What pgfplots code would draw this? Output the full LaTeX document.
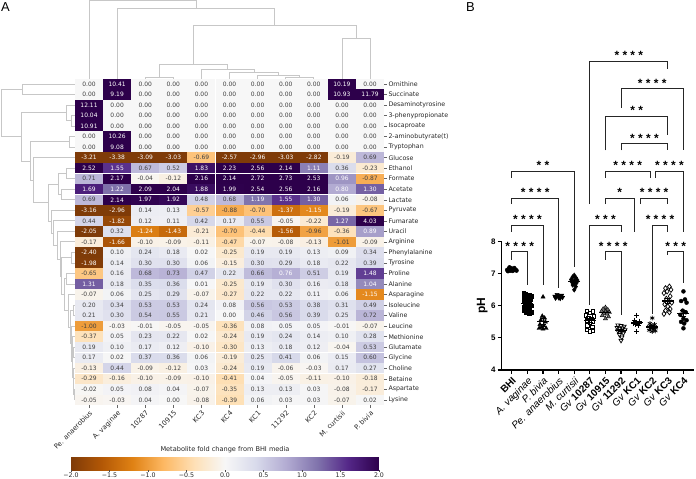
\documentclass[border=0pt]{standalone}
\usepackage{pgfplots}
\pgfplotsset{compat=1.18}
\usepackage{pgfplotstable}
\usepackage{fontspec}
\setmainfont{DejaVu Sans}
\newfontfamily\arial{Liberation Sans}
\newcommand\hmfont{\fontsize{6.3}{7.4}\selectfont}
\newcommand\colfont{\fontsize{6.8}{7.4}\selectfont}
\newcommand\cellfont{\fontsize{6}{6}\selectfont}
\pgfdeclareplotmark{cell}{\pgfpathrectangle{\pgfpoint{-14.0bp}{-5.2bp}}{\pgfpoint{28.0bp}{10.4bp}}\pgfusepathqfill}
\pgfplotsset{colormap={puor}{rgb255=(127,59,8) rgb255=(179,88,6) rgb255=(224,130,20) rgb255=(253,184,99) rgb255=(254,224,182) rgb255=(247,247,247) rgb255=(216,218,235) rgb255=(178,171,210) rgb255=(128,115,172) rgb255=(84,39,136) rgb255=(45,0,75)}}
\pgfplotsset{dendro/.style={draw=black!22, line width=0.9bp, mark=none},
  brk/.style={draw=black!85, line width=1.0bp, mark=none}}

\pgfplotstableread{
r c0 c1 c2 c3 c4 c5 c6 c7 c8 c9 c10
0 0.00 10.41 0.00 0.00 0.00 0.00 0.00 0.00 0.00 10.19 0.00
1 0.00 9.19 0.00 0.00 0.00 0.00 0.00 0.00 0.00 10.93 11.79
2 12.11 0.00 0.00 0.00 0.00 0.00 0.00 0.00 0.00 0.00 0.00
3 10.04 0.00 0.00 0.00 0.00 0.00 0.00 0.00 0.00 0.00 0.00
4 10.91 0.00 0.00 0.00 0.00 0.00 0.00 0.00 0.00 0.00 0.00
5 0.00 10.26 0.00 0.00 0.00 0.00 0.00 0.00 0.00 0.00 0.00
6 0.00 9.08 0.00 0.00 0.00 0.00 0.00 0.00 0.00 0.00 0.00
7 -3.21 -3.38 -3.09 -3.03 -0.69 -2.57 -2.96 -3.03 -2.82 -0.19 0.69
8 2.52 1.55 0.67 0.52 1.83 2.23 2.56 2.14 1.11 0.36 -0.23
9 0.71 2.17 -0.04 -0.12 2.16 2.14 2.72 2.73 2.53 0.96 -0.87
10 1.69 1.22 2.09 2.04 1.88 1.99 2.54 2.56 2.16 0.80 1.30
11 0.69 2.14 1.97 1.92 0.48 0.68 1.19 1.55 1.30 0.06 -0.08
12 -3.16 -2.96 0.14 0.13 -0.57 -0.88 -0.70 -1.37 -1.15 -0.19 -0.67
13 0.44 -1.82 0.12 0.11 0.42 0.17 0.55 -0.05 -0.22 1.27 4.03
14 -2.05 0.32 -1.24 -1.43 -0.21 -0.70 -0.44 -1.56 -0.96 -0.36 0.89
15 -0.17 -1.66 -0.10 -0.09 -0.11 -0.47 -0.07 -0.08 -0.13 -1.01 -0.09
16 -2.40 0.10 0.24 0.18 0.02 -0.25 0.19 0.19 0.13 0.09 0.34
17 -1.98 0.14 0.30 0.30 0.06 -0.15 0.30 0.29 0.18 0.22 0.39
18 -0.65 0.16 0.68 0.73 0.47 0.22 0.66 0.76 0.51 0.19 1.48
19 1.31 0.18 0.35 0.36 0.01 -0.25 0.19 0.30 0.16 0.18 1.04
20 -0.07 0.06 0.25 0.29 -0.07 -0.27 0.22 0.22 0.11 0.06 -1.15
21 0.20 0.34 0.53 0.53 0.24 0.08 0.56 0.53 0.38 0.31 0.49
22 0.21 0.30 0.54 0.55 0.21 -0.00 0.46 0.56 0.39 0.25 0.72
23 -1.00 -0.03 -0.01 -0.05 -0.05 -0.36 0.08 0.05 0.05 -0.01 -0.07
24 -0.37 0.05 0.23 0.22 0.02 -0.24 0.19 0.24 0.14 0.10 0.28
25 0.19 0.10 0.17 0.12 -0.10 -0.30 0.13 0.18 0.12 -0.04 0.53
26 0.17 0.02 0.37 0.36 0.06 -0.19 0.25 0.41 0.06 0.15 0.60
27 -0.13 0.44 -0.09 -0.12 0.03 -0.24 0.19 -0.06 -0.03 0.17 0.27
28 -0.29 -0.16 -0.10 -0.09 -0.10 -0.41 0.04 -0.05 -0.11 -0.10 -0.18
29 -0.02 0.05 0.08 0.04 -0.07 -0.35 0.13 0.13 0.03 -0.08 -0.17
30 -0.05 -0.03 0.04 0.00 -0.08 -0.39 0.06 0.03 0.03 -0.07 0.02
}\hm

\begin{document}
\begin{tikzpicture}
% ---------- top dendrogram (x: column, y: pixel from top)
\begin{axis}[at={(75bp,479bp)}, anchor=north west, x=28.1bp, y=1bp, y dir=reverse,
  xmin=-0.5, xmax=10.5, ymin=0, ymax=78.7, hide axis, clip=false]
\addplot[dendro] coordinates {(2,78.7)(2,77.5)(3,77.5)(3,78.7)};
\addplot[dendro] coordinates {(7,78.7)(7,77)(8,77)(8,78.7)};
\addplot[dendro] coordinates {(6,78.7)(6,75)(7.5,75)(7.5,77)};
\addplot[dendro] coordinates {(5,78.7)(5,72)(6.75,72)(6.75,75)};
\addplot[dendro] coordinates {(4,78.7)(4,69)(5.875,69)(5.875,72)};
\addplot[dendro] coordinates {(2.5,77.5)(2.5,64.3)(4.9375,64.3)(4.9375,69)};
\addplot[dendro] coordinates {(9,78.7)(9,38.7)(10,38.7)(10,78.7)};
\addplot[dendro] coordinates {(3.71875,64.3)(3.71875,25.7)(9.5,25.7)(9.5,38.7)};
\addplot[dendro] coordinates {(1,78.7)(1,8.3)(6.609,8.3)(6.609,25.7)};
\addplot[dendro] coordinates {(0,78.7)(0,0.8)(3.805,0.8)(3.805,8.3)};
\end{axis}
% ---------- left dendrogram (x: pixel, y: row)
\begin{axis}[at={(0bp,400.3bp)}, anchor=north west, x=1bp, y=10.53bp, y dir=reverse,
  xmin=0, xmax=75, ymin=-0.5, ymax=30.5, hide axis, clip=false]
\addplot[dendro] coordinates {(75,0)(22.7,0)(22.7,1)(75,1)};
\addplot[dendro] coordinates {(75,3)(71.7,3)(71.7,4)(75,4)};
\addplot[dendro] coordinates {(75,2)(66.7,2)(66.7,3.5)(71.7,3.5)};
\addplot[dendro] coordinates {(75,5)(69.3,5)(69.3,6)(75,6)};
\addplot[dendro] coordinates {(75,8)(66.7,8)(66.7,9)(75,9)};
\addplot[dendro] coordinates {(75,10)(61.7,10)(61.7,11)(75,11)};
\addplot[dendro] coordinates {(66.7,8.5)(58.3,8.5)(58.3,10.5)(61.7,10.5)};
\addplot[dendro] coordinates {(75,29)(74,29)(74,30)(75,30)};
\addplot[dendro] coordinates {(75,28)(73.5,28)(73.5,29.5)(74,29.5)};
\addplot[dendro] coordinates {(75,27)(73,27)(73,28.75)(73.5,28.75)};
\addplot[dendro] coordinates {(75,25)(73.5,25)(73.5,26)(75,26)};
\addplot[dendro] coordinates {(75,24)(72.5,24)(72.5,25.5)(73.5,25.5)};
\addplot[dendro] coordinates {(72.5,24.75)(72,24.75)(72,27.875)(73,27.875)};
\addplot[dendro] coordinates {(75,23)(71,23)(71,26.31)(72,26.31)};
\addplot[dendro] coordinates {(75,21)(73,21)(73,22)(75,22)};
\addplot[dendro] coordinates {(73,21.5)(70,21.5)(70,24.66)(71,24.66)};
\addplot[dendro] coordinates {(75,20)(68.5,20)(68.5,23.08)(70,23.08)};
\addplot[dendro] coordinates {(75,18)(66.7,18)(66.7,19)(75,19)};
\addplot[dendro] coordinates {(66.7,18.5)(64,18.5)(64,21.54)(68.5,21.54)};
\addplot[dendro] coordinates {(75,16)(71.7,16)(71.7,17)(75,17)};
\addplot[dendro] coordinates {(71.7,16.5)(61.7,16.5)(61.7,20.02)(64,20.02)};
\addplot[dendro] coordinates {(75,15)(60,15)(60,18.26)(61.7,18.26)};
\addplot[dendro] coordinates {(75,14)(57.3,14)(57.3,16.63)(60,16.63)};
\addplot[dendro] coordinates {(75,13)(53.3,13)(53.3,15.31)(57.3,15.31)};
\addplot[dendro] coordinates {(75,12)(51.7,12)(51.7,14.16)(53.3,14.16)};
\addplot[dendro] coordinates {(58.3,9.5)(48.3,9.5)(48.3,13.08)(51.7,13.08)};
\addplot[dendro] coordinates {(75,7)(33.3,7)(33.3,11.29)(48.3,11.29)};
\addplot[dendro] coordinates {(69.3,5.5)(30,5.5)(30,9.14)(33.3,9.14)};
\addplot[dendro] coordinates {(66.7,2.75)(21.7,2.75)(21.7,7.32)(30,7.32)};
\addplot[dendro] coordinates {(22.7,0.5)(1,0.5)(1,5.03)(21.7,5.03)};
\end{axis}
% ---------- heatmap (row r plotted at y=-r)
\begin{axis}[at={(75bp,400.3bp)}, anchor=north west,
  scale only axis, width=309.1bp, height=326.43bp,
  xmin=-0.5, xmax=10.5, ymin=-30.5, ymax=0.5,
  axis line style={draw=none}, clip=false,
  colormap name=puor, point meta min=-2, point meta max=2,
  xtick={0,...,10}, xticklabels={},
  ytick={-30,...,0},
  yticklabels={Lysine, Aspartate, Betaine, Choline, Glycine, Glutamate, Methionine, Leucine, Valine, Isoleucine, Asparagine, Alanine, Proline, Tyrosine, Phenylalanine, Arginine, Uracil, Fumarate, Pyruvate, Lactate, Acetate, Formate, Ethanol, Glucose, Tryptophan, {2-aminobutyrate(t)}, Isocaproate, 3-phenypropionate, Desaminotyrosine, Succinate, Ornithine},
  xtick pos=left, ytick pos=right, yticklabel pos=right,
  tick align=outside, major tick length=3bp, tick style={black!60, line width=0.5bp},
  yticklabel style={anchor=west, font=\hmfont, inner sep=1.2bp, text=black!85},
  colorbar horizontal,
  colorbar style={at={(parent axis.south west)}, anchor=north west, xshift=-4bp, yshift=-43.5bp,
    scale only axis, width=308bp, height=13bp,
    xtick={-2,-1.5,-1,-0.5,0,0.5,1,1.5,2},
    xticklabels={−2.0,−1.5,−1.0,−0.5,0.0,0.5,1.0,1.5,2.0},
    xticklabel style={font=\hmfont, rotate=0, anchor=north, inner sep=0.8bp, text=black!85},
    xtick pos=left, tick align=outside, major tick length=2.2bp, tick style={black!70, line width=0.5bp},
    axis line style={draw=none},
    title={Metabolite fold change from BHI media},
    title style={font=\fontsize{6.6}{7}\selectfont, yshift=-5bp, text=black!85}},
]
\pgfplotsinvokeforeach{0,...,10}{
  \addplot[scatter, only marks, mark=cell, point meta=\thisrow{c#1}] table[x expr=#1, y expr=-\thisrow{r}]{\hm};
}
\pgfplotsinvokeforeach{0,...,10}{
  \addplot[draw=none, mark=none, point meta=\thisrow{c#1},
    nodes near coords={\ifdim\pgfplotspointmetatransformed pt>687pt\color{white}\else\ifdim\pgfplotspointmetatransformed pt<225pt\color{white}\else\color{black!75}\fi\fi\pgfmathprintnumber[fixed,zerofill,precision=2,assume math mode=true]{\pgfplotspointmeta}},
    every node near coord/.append style={anchor=center, font=\cellfont, inner sep=0pt}]
    table[x expr=#1, y expr=-\thisrow{r}]{\hm};
}
\begin{scope}[every node/.style={rotate=45, anchor=north east, font=\colfont, text=black!85, inner sep=1bp}]
\node at ([yshift=-3.5bp]axis cs:0,-30.5) {Pe. anaerobius};
\node at ([yshift=-3.5bp]axis cs:1,-30.5) {A. vaginae};
\node at ([yshift=-3.5bp]axis cs:2,-30.5) {10287};
\node at ([yshift=-3.5bp]axis cs:3,-30.5) {10915};
\node at ([yshift=-3.5bp]axis cs:4,-30.5) {KC3};
\node at ([yshift=-3.5bp]axis cs:5,-30.5) {KC4};
\node at ([yshift=-3.5bp]axis cs:6,-30.5) {KC1};
\node at ([yshift=-3.5bp]axis cs:7,-30.5) {11292};
\node at ([yshift=-3.5bp]axis cs:8,-30.5) {KC2};
\node at ([yshift=-3.5bp]axis cs:9,-30.5) {M. curtisii};
\node at ([yshift=-3.5bp]axis cs:10,-30.5) {P. bivia};
\end{scope}
\end{axis}
% ---------- panel B
\begin{axis}[at={(501.7bp,109bp)}, anchor=south west,
  scale only axis, width=192.66bp, height=128.32bp,
  xmin=-0.65, xmax=11.7, ymin=4, ymax=8, clip=false,
  axis x line*=bottom, axis y line*=left,
  axis line style={line width=1.1bp, -},
  tick align=outside, major tick length=4bp, tick style={line width=1.1bp, black},
  xtick={0,...,11}, xticklabels={}, ytick={4,5,6,7,8}, yticklabels={4,5,6,7,8},
  yticklabel style={font=\arial\bfseries\fontsize{8}{8}\selectfont, inner sep=2bp},
  ylabel={pH}, ylabel style={font=\arial\bfseries\fontsize{12}{12}\selectfont, yshift=-2bp},
  mark size=2bp]
% data points
\addplot[only marks, mark=*, black] coordinates {(-0.3,7.12)(-0.2,7.15)(-0.1,7.1)(0,7.13)(0.1,7.11)(0.2,7.14)(0.3,7.1)(-0.25,7.08)(-0.05,7.17)(0.05,7.09)(0.15,7.18)(0.25,7.12)(-0.15,7.2)};
\addplot[only marks, mark=square*, black, mark size=1.8bp] coordinates {(0.75,6.4)(0.9,6.38)(1.1,6.35)(1.25,6.3)(0.8,6.25)(1,6.22)(1.2,6.2)(0.75,6.15)(0.95,6.12)(1.15,6.1)(0.85,6.05)(1.05,6.02)(1.25,6.0)(0.75,5.95)(0.95,5.92)(1.15,5.9)(0.8,5.85)(1.05,5.82)(1.25,5.8)(0.9,5.78)(1.1,5.75)};
\addplot[only marks, mark=triangle*, black, mark size=2.4bp] coordinates {(2,6.28)(1.95,5.68)(2.1,5.62)(1.85,5.55)(2.15,5.5)(1.8,5.42)(2.05,5.38)(1.9,5.33)(2.2,5.3)(2,5.28)(1.75,5.3)};
\addplot[only marks, mark=triangle*, black, mark size=2.4bp, mark options={rotate=180}] coordinates {(2.75,6.3)(2.85,6.28)(2.95,6.32)(3.05,6.27)(3.15,6.3)(3.25,6.26)(2.8,6.24)(3,6.25)(3.2,6.33)(2.9,6.35)(3.1,6.23)};
\addplot[only marks, mark=diamond*, black, mark size=2.4bp] coordinates {(4,6.95)(3.9,6.9)(4.1,6.88)(3.8,6.82)(4.2,6.8)(4,6.78)(3.85,6.74)(4.15,6.72)(4,6.7)(3.9,6.65)(4.1,6.6)(4,6.5)};
\addplot[only marks, mark=square, black, mark size=1.8bp, line width=0.7bp] coordinates {(4.8,5.85)(5.2,5.82)(5,5.78)(4.75,5.7)(5.25,5.68)(4.9,5.62)(5.1,5.6)(4.8,5.55)(5.2,5.52)(5,5.48)(4.85,5.4)(5.15,5.35)(4.8,5.25)(5.2,5.22)(5,5.2)};
\addplot[only marks, mark=triangle*, black!55, mark size=2.4bp, mark options={draw=black}] coordinates {(6,5.95)(5.85,5.9)(6.15,5.88)(5.75,5.83)(6,5.82)(6.25,5.8)(5.9,5.77)(6.1,5.75)(5.8,5.7)(6.2,5.66)(6,5.6)};
\addplot[only marks, mark=triangle, black, mark size=2.4bp, line width=0.7bp, mark options={rotate=180}] coordinates {(6.8,5.4)(7,5.38)(7.2,5.36)(6.75,5.32)(7.1,5.3)(6.9,5.28)(7.25,5.25)(6.8,5.22)(7,5.2)(7.15,5.15)(6.9,5.1)(7.05,5.02)(7,4.92)};
\addplot[only marks, mark=+, black, mark size=2.6bp, line width=0.8bp] coordinates {(8,5.7)(7.85,5.55)(8.15,5.52)(8,5.48)(7.8,5.46)(8.2,5.44)(7.95,5.42)(8.1,5.4)(8,5.2)};
\addplot[only marks, mark=asterisk, black, mark size=2.4bp, line width=0.7bp] coordinates {(9,5.62)(8.85,5.45)(9.15,5.42)(9,5.38)(8.8,5.35)(9.2,5.32)(8.9,5.3)(9.1,5.28)(8.8,5.24)(9.2,5.22)(9,5.2)};
\addplot[only marks, mark=diamond, black, mark size=2.6bp, line width=0.7bp] coordinates {(10.1,6.6)(9.85,6.55)(10.2,6.5)(9.95,6.45)(9.75,6.4)(10.15,6.3)(9.9,6.22)(10.05,6.15)(10.25,6.1)(9.8,6.05)(10,5.98)(10.15,5.9)(9.85,5.85)(9.75,5.75)(10.1,5.8)};
\addplot[only marks, mark=*, black] coordinates {(11,6.45)(11.1,6.2)(10.85,6.15)(11.2,6.1)(10.95,5.85)(11.15,5.8)(10.8,5.72)(11,5.6)(11.2,5.55)(10.85,5.5)(11.05,5.45)(11,5.3)};
% means with SEM
\addplot[only marks, mark=-, mark size=6bp, line width=1.1bp, black,
  error bars/.cd, y dir=both, y explicit, error bar style={line width=1bp}, error mark options={rotate=90, mark size=3bp, line width=1bp}]
  coordinates {(0,7.13)+-(0,0.01) (1,6.07)+-(0,0.05) (2,5.51)+-(0,0.09) (3,6.28)+-(0,0.01) (4,6.75)+-(0,0.03) (5,5.54)+-(0,0.05) (6,5.79)+-(0,0.03) (7,5.23)+-(0,0.04) (8,5.47)+-(0,0.05) (9,5.34)+-(0,0.04) (10,6.15)+-(0,0.08) (11,5.76)+-(0,0.1)};
% significance brackets
\addplot[brk] coordinates {(5,9.17)(5,13.62)(10,13.62)(10,13.39)};
\addplot[brk] coordinates {(7,12.17)(7,12.76)(11,12.76)(11,10.85)};
\addplot[brk] coordinates {(6,10.85)(6,11.91)(10,11.91)(10,11.31)};
\addplot[brk] coordinates {(7,10.85)(7,11.06)(10,11.06)(10,10.85)};
\addplot[brk] coordinates {(6,10.0)(6,10.2)(8.87,10.2)(8.87,10.0)};
\addplot[brk] coordinates {(9.2,10.0)(9.2,10.2)(11,10.2)(11,8.31)};
\addplot[brk] coordinates {(6,9.17)(6,9.35)(7.84,9.35)(7.84,8.31)};
\addplot[brk] coordinates {(8.23,9.17)(8.23,9.35)(10,9.35)(10,9.17)};
\addplot[brk] coordinates {(5,6.03)(5,8.52)(7,8.52)(7,8.31)};
\addplot[brk] coordinates {(9.03,5.75)(9.03,8.52)(10,8.52)(10,8.31)};
\addplot[brk] coordinates {(6,7.43)(6,7.69)(7,7.69)(7,5.72)};
\addplot[brk] coordinates {(10,7.6)(10,7.69)(11,7.69)(11,6.71)};
\addplot[brk] coordinates {(0,10.0)(0,10.2)(4,10.2)(4,7.22)};
\addplot[brk] coordinates {(0,9.17)(0,9.35)(3,9.35)(3,6.55)};
\addplot[brk] coordinates {(0,8.31)(0,8.52)(2,8.52)(2,6.66)};
\addplot[brk] coordinates {(0,7.43)(0,7.69)(1,7.69)(1,6.66)};
\begin{scope}[every node/.style={anchor=base, yshift=1.5bp, inner sep=0pt, font=\arial\bfseries\fontsize{12}{12}\selectfont}]
\node at (axis cs:7.5,13.62) {* * * *};
\node at (axis cs:9,12.76) {* * * *};
\node at (axis cs:8,11.91) {* *};
\node at (axis cs:8.5,11.06) {* * * *};
\node at (axis cs:7.43,10.2) {* * * *};
\node at (axis cs:10.1,10.2) {* * * *};
\node at (axis cs:6.92,9.35) {*};
\node at (axis cs:9.12,9.35) {* * * *};
\node at (axis cs:6,8.52) {* * *};
\node at (axis cs:9.5,8.52) {* * * *};
\node at (axis cs:6.5,7.69) {* * * *};
\node at (axis cs:10.5,7.69) {* * *};
\node at (axis cs:2,10.2) {* *};
\node at (axis cs:1.5,9.35) {* * * *};
\node at (axis cs:1,8.52) {* * * *};
\node at (axis cs:0.5,7.69) {* * * *};
\end{scope}
\begin{scope}[every node/.style={rotate=45, anchor=north east, font=\arial\fontsize{10}{10}\selectfont, inner sep=1bp}]
\node at ([yshift=-5bp]axis cs:0,4) {\textbf{BHI}};
\node at ([yshift=-5bp]axis cs:1,4) {\textit{A. vaginae}};
\node at ([yshift=-5bp]axis cs:2,4) {\textit{P. bivia}};
\node at ([yshift=-5bp]axis cs:3,4) {\textit{Pe. anaerobius}};
\node at ([yshift=-5bp]axis cs:4,4) {\textit{M. curtisii}};
\node at ([yshift=-5bp]axis cs:5,4) {\textit{Gv} \textbf{10287}};
\node at ([yshift=-5bp]axis cs:6,4) {\textit{Gv} \textbf{10915}};
\node at ([yshift=-5bp]axis cs:7,4) {\textit{Gv} \textbf{11292}};
\node at ([yshift=-5bp]axis cs:8,4) {\textit{Gv} \textbf{KC1}};
\node at ([yshift=-5bp]axis cs:9,4) {\textit{Gv} \textbf{KC2}};
\node at ([yshift=-5bp]axis cs:10,4) {\textit{Gv} \textbf{KC3}};
\node at ([yshift=-5bp]axis cs:11,4) {\textit{Gv} \textbf{KC4}};
\end{scope}
\end{axis}
\node[anchor=north west, inner sep=0pt, font=\arial\fontsize{13}{13}\selectfont] at (1bp,477bp) {A};
\node[anchor=north west, inner sep=0pt, font=\arial\fontsize{13}{13}\selectfont] at (466bp,477bp) {B};
\pgfresetboundingbox
\path[use as bounding box] (0,0) rectangle (696bp,479bp);
\end{tikzpicture}
\end{document}
